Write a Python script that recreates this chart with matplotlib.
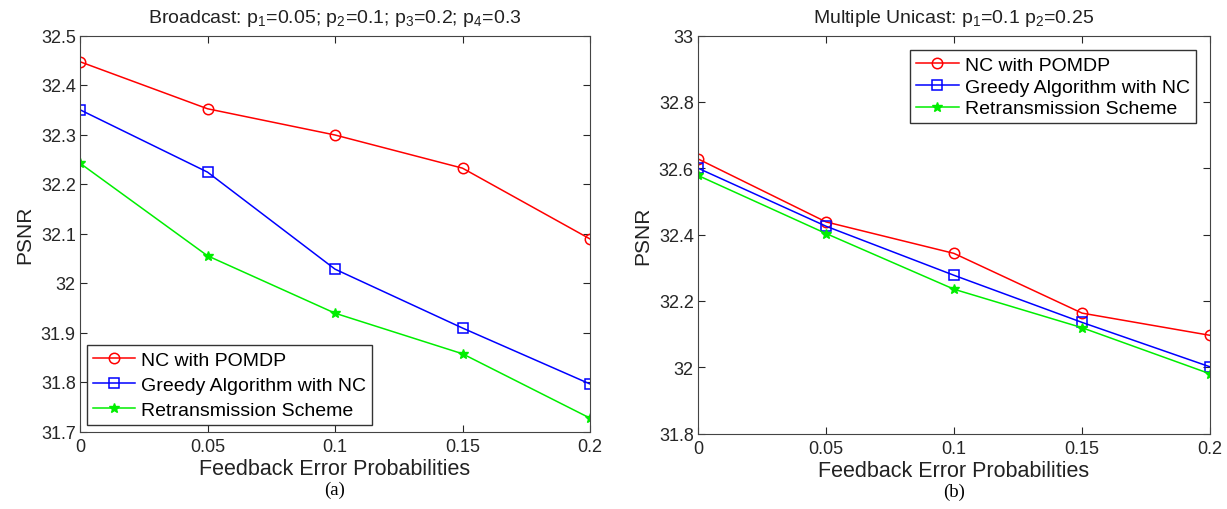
import matplotlib
matplotlib.use('Agg')
import matplotlib.pyplot as plt

plt.rcParams['font.family'] = ['Liberation Sans', 'DejaVu Sans']
plt.rcParams['mathtext.fontset'] = 'custom'
plt.rcParams['mathtext.rm'] = 'Liberation Sans'
plt.rcParams['mathtext.default'] = 'regular'

fep = [0, 0.05, 0.1, 0.15, 0.2]

# (a) Broadcast
bc_pomdp = [32.447, 32.352, 32.299, 32.232, 32.089]
bc_greedy = [32.350, 32.224, 32.028, 31.909, 31.796]
bc_retx = [32.242, 32.055, 31.939, 31.857, 31.727]

# (b) Multiple unicast
mu_pomdp = [32.628, 32.438, 32.343, 32.163, 32.096]
mu_greedy = [32.600, 32.425, 32.277, 32.135, 32.001]
mu_retx = [32.578, 32.403, 32.235, 32.119, 31.980]

labels = ['NC with POMDP', 'Greedy Algorithm with NC', 'Retransmission Scheme']
xticks = [0, 0.05, 0.1, 0.15, 0.2]
xticklabels = ['0', '0.05', '0.1', '0.15', '0.2']

fig = plt.figure(figsize=(12.27, 5.10), dpi=100)
ax1 = fig.add_axes([80 / 1227, 77.5 / 510, 510 / 1227, 396 / 510])
ax2 = fig.add_axes([698 / 1227, 75.5 / 510, 512 / 1227, 398 / 510])


def draw(ax, a, b, c, ylim, yticks, yticklabels, title, loc, anchor, lsp, tag):
    ax.plot(fep, a, color='red', marker='o', ms=7.5, mfc='none', mew=1.1, lw=1.1, label=labels[0])
    ax.plot(fep, b, color='blue', marker='s', ms=6.5, mfc='none', mew=1.1, lw=1.1, label=labels[1])
    ax.plot(fep, c, color='#00ee00', marker='*', ms=7.5, lw=1.1, label=labels[2])
    ax.set_xlim(0, 0.2)
    ax.set_ylim(*ylim)
    ax.set_xticks(xticks)
    ax.set_xticklabels(xticklabels)
    ax.set_yticks(yticks)
    ax.set_yticklabels(yticklabels)
    ax.tick_params(direction='in', top=True, right=True, labelsize=13,
                   colors='#262626', length=5)
    ax.tick_params(axis='y', pad=3)
    ax.tick_params(axis='x', pad=5)
    for s in ax.spines.values():
        s.set_color('#444444')
    ax.set_title(title, fontsize=14, color='#222222', pad=10)
    ax.set_xlabel('Feedback Error Probabilities', fontsize=15.5, color='#222222', labelpad=2)
    ax.set_ylabel('PSNR', fontsize=15, color='#222222', labelpad=5)
    leg = ax.legend(loc=loc, bbox_to_anchor=anchor, fontsize=14, fancybox=False,
                    edgecolor='#333333', framealpha=1, handlelength=2.2,
                    borderpad=0.3, labelspacing=lsp, handletextpad=0.3,
                    borderaxespad=0.35)
    leg.get_frame().set_linewidth(1.0)
    ax.text(0.5, -0.145, tag, transform=ax.transAxes, ha='center', va='center',
            fontsize=13.5, family='Liberation Serif')


draw(ax1, bc_pomdp, bc_greedy, bc_retx, (31.7, 32.5),
     [31.7, 31.8, 31.9, 32.0, 32.1, 32.2, 32.3, 32.4, 32.5],
     ['31.7', '31.8', '31.9', '32', '32.1', '32.2', '32.3', '32.4', '32.5'],
     r'Broadcast: p$_1$=0.05; p$_2$=0.1; p$_3$=0.2; p$_4$=0.3',
     'lower left', (0.0, 0.0), 0.38, '(a)')

draw(ax2, mu_pomdp, mu_greedy, mu_retx, (31.8, 33.0),
     [31.8, 32.0, 32.2, 32.4, 32.6, 32.8, 33.0],
     ['31.8', '32', '32.2', '32.4', '32.6', '32.8', '33'],
     r'Multiple Unicast: p$_1$=0.1 p$_2$=0.25',
     'upper right', (0.985, 0.98), 0.22, '(b)')

fig.savefig('out.png', dpi=100)
